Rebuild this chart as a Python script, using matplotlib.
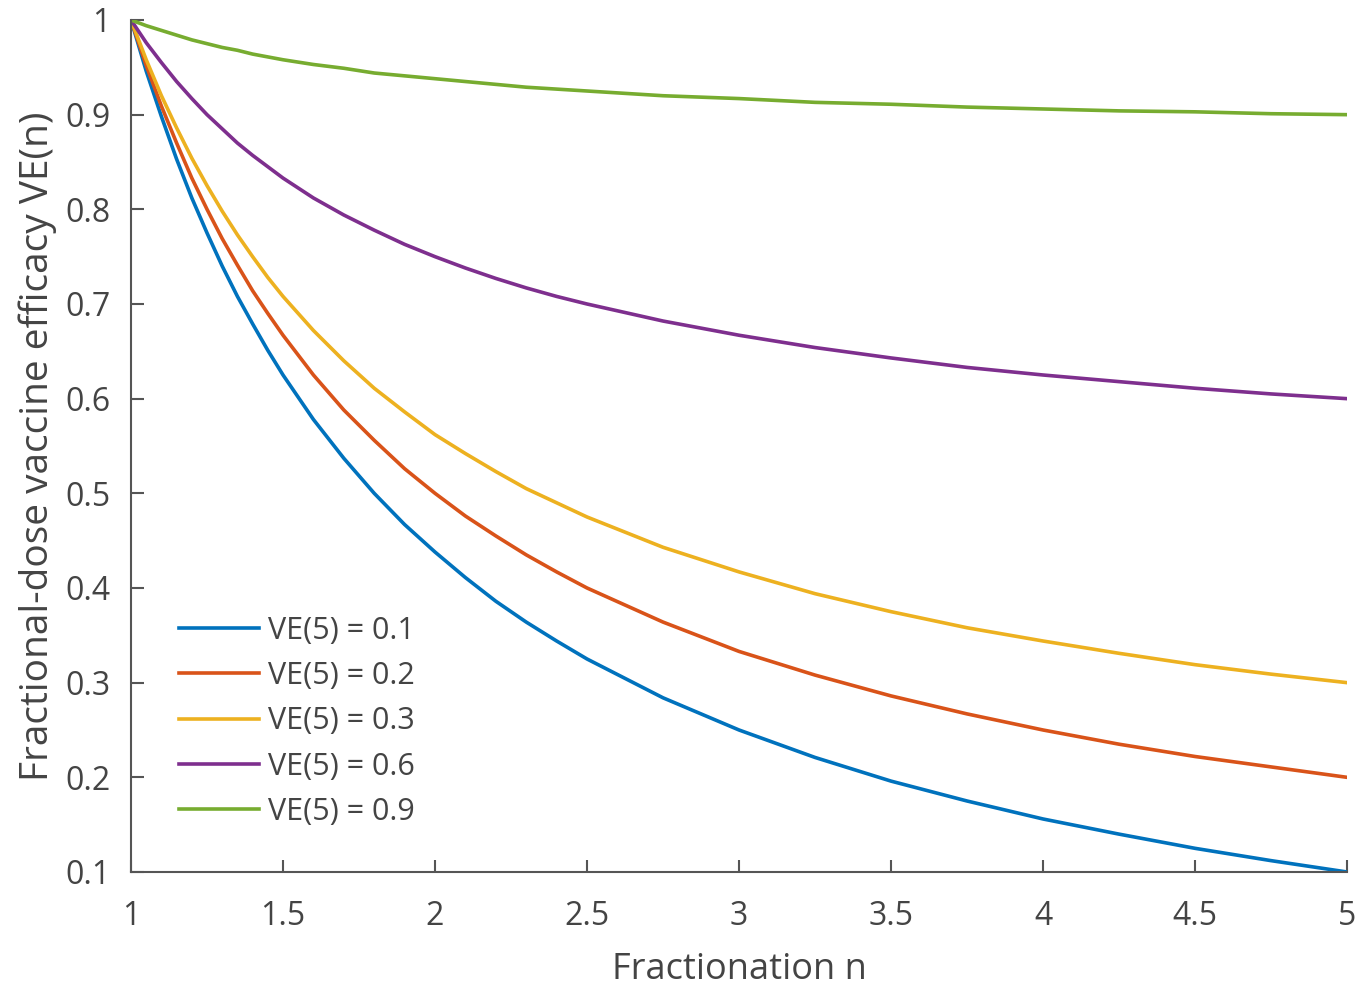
import numpy as np
import matplotlib.pyplot as plt

plt.rcParams['font.family'] = ['Open Sans', 'DejaVu Sans']

# values
n = [1, 1.05, 1.1, 1.15, 1.2, 1.25, 1.3, 1.35, 1.4, 1.45, 1.5,
     1.6, 1.7, 1.8, 1.9, 2, 2.1, 2.2, 2.3, 2.4, 2.5,
     2.75, 3, 3.25, 3.5, 3.75, 4, 4.25, 4.5, 4.75, 5]
ve_01 = [1, 0.946, 0.898, 0.853, 0.812, 0.775, 0.740, 0.708, 0.679, 0.651, 0.625,
         0.578, 0.537, 0.5, 0.467, 0.438, 0.411, 0.386, 0.364, 0.344, 0.325,
         0.284, 0.25, 0.221, 0.196, 0.175, 0.156, 0.140, 0.125, 0.112, 0.1]
ve_02 = [1, 0.952, 0.909, 0.870, 0.833, 0.8, 0.769, 0.741, 0.714, 0.690, 0.667,
         0.625, 0.588, 0.556, 0.526, 0.5, 0.476, 0.455, 0.435, 0.417, 0.4,
         0.364, 0.333, 0.308, 0.286, 0.267, 0.25, 0.235, 0.222, 0.211, 0.2]
ve_03 = [1, 0.958, 0.920, 0.886, 0.854, 0.825, 0.798, 0.773, 0.75, 0.728, 0.708,
         0.672, 0.640, 0.611, 0.586, 0.562, 0.542, 0.523, 0.505, 0.490, 0.475,
         0.443, 0.417, 0.394, 0.375, 0.358, 0.344, 0.331, 0.319, 0.309, 0.3]
ve_06 = [1, 0.976, 0.955, 0.935, 0.917, 0.9, 0.885, 0.870, 0.857, 0.845, 0.833,
         0.812, 0.794, 0.778, 0.763, 0.75, 0.738, 0.727, 0.717, 0.708, 0.7,
         0.682, 0.667, 0.654, 0.643, 0.633, 0.625, 0.618, 0.611, 0.605, 0.6]
ve_09 = [1, 0.994, 0.989, 0.984, 0.979, 0.975, 0.971, 0.968, 0.964, 0.961, 0.958,
         0.953, 0.949, 0.944, 0.941, 0.938, 0.935, 0.932, 0.929, 0.927, 0.925,
         0.920, 0.917, 0.913, 0.911, 0.908, 0.906, 0.904, 0.903, 0.901, 0.9]

series = [ve_01, ve_02, ve_03, ve_06, ve_09]
labels = ['VE(5) = 0.1', 'VE(5) = 0.2', 'VE(5) = 0.3', 'VE(5) = 0.6', 'VE(5) = 0.9']
colors = ['#0072BD', '#D95319', '#EDB120', '#7E2F8E', '#77AC30']

txt = '#444444'

fig = plt.figure(figsize=(13.72, 9.90), dpi=100)
ax = fig.add_axes([0.0955, 0.1192, 0.8863, 0.8606])

for y, lab, col in zip(series, labels, colors):
    ax.plot(n, y, color=col, linewidth=2.6, label=lab)

ax.set_xlim(1, 5)
ax.set_ylim(0.1, 1)
ax.set_xticks(np.arange(1, 5.01, 0.5))
ax.set_xticklabels(['1', '1.5', '2', '2.5', '3', '3.5', '4', '4.5', '5'])
ax.set_yticks(np.arange(0.1, 1.001, 0.1))
ax.set_yticklabels(['0.1', '0.2', '0.3', '0.4', '0.5', '0.6', '0.7', '0.8', '0.9', '1'])

for s in ['top', 'right']:
    ax.spines[s].set_visible(False)
for s in ['left', 'bottom']:
    ax.spines[s].set_color('#555555')
    ax.spines[s].set_linewidth(1.5)

ax.tick_params(direction='in', length=9, width=1.5, colors='#555555',
               labelcolor=txt, labelsize=23)
ax.tick_params(axis='x', pad=20)
ax.tick_params(axis='y', pad=15)

ax.set_xlabel('Fractionation n', fontsize=26, color=txt, labelpad=14)
ax.set_ylabel('Fractional-dose vaccine efficacy VE(n)', fontsize=28, color=txt, labelpad=6)

leg = ax.legend(loc='upper left', bbox_to_anchor=(0.017, 0.333), frameon=False,
                fontsize=22, handlelength=2.6, handletextpad=0.3, labelspacing=0.5,
                labelcolor=txt)

fig.savefig('out.png', dpi=100)
